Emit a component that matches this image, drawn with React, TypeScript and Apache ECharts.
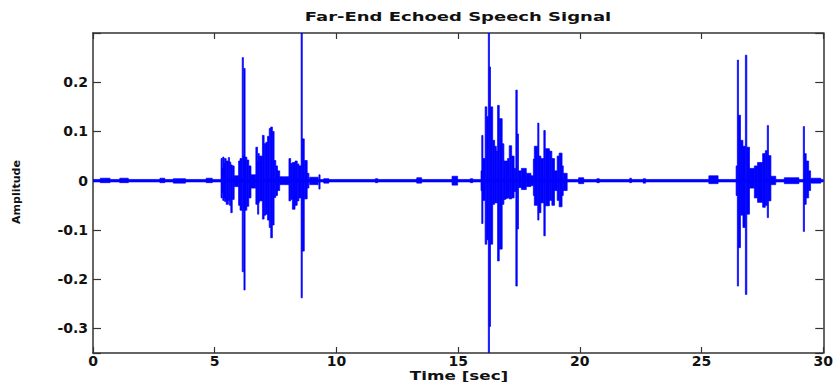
import React, { useEffect, useRef } from "react";
import * as echarts from "echarts";

// Each segment: [tStart (s), tEnd (s), upper amplitude, lower amplitude]
const baselineNoise: number[][] = [
  [0, 30, 0.0025, -0.0025],
  [0.3, 0.7, 0.005, -0.004],
  [1.1, 1.45, 0.005, -0.004],
  [2.75, 2.95, 0.005, -0.004],
  [3.3, 3.8, 0.004, -0.005],
  [4.65, 4.9, 0.005, -0.004],
  [8.9, 9.25, 0.007, -0.008],
  [9.28, 9.32, 0.012, -0.017],
  [9.48, 9.69, 0.004, -0.005],
  [11.6, 11.7, 0.004, -0.004],
  [13.3, 13.5, 0.006, -0.005],
  [14.75, 14.98, 0.009, -0.009],
  [15.5, 15.6, 0.004, -0.004],
  [19.95, 20.16, 0.006, -0.006],
  [20.7, 20.8, 0.004, -0.004],
  [22.05, 22.12, 0.005, -0.004],
  [22.6, 22.7, 0.004, -0.005],
  [25.3, 25.68, 0.01, -0.006],
  [28.4, 29.0, 0.006, -0.006],
  [29.5, 29.9, 0.005, -0.005],
];

const burst1: number[][] = [
  [5.26, 5.29, 0.045, -0.035],
  [5.29, 5.33, 0.025, -0.025],
  [5.33, 5.37, 0.048, -0.04],
  [5.37, 5.4, 0.035, -0.035],
  [5.4, 5.47, 0.045, -0.042],
  [5.47, 5.56, 0.04, -0.048],
  [5.56, 5.6, 0.047, -0.04],
  [5.6, 5.66, 0.038, -0.05],
  [5.66, 5.72, 0.032, -0.065],
  [5.72, 5.8, 0.03, -0.038],
  [5.8, 5.98, 0.01, -0.012],
  [5.98, 6.04, 0.04, -0.05],
  [6.04, 6.12, 0.045, -0.06],
  [6.13, 6.17, 0.25, -0.185],
  [6.17, 6.2, 0.05, -0.06],
  [6.2, 6.24, 0.228, -0.222],
  [6.24, 6.32, 0.048, -0.06],
  [6.32, 6.4, 0.042, -0.052],
  [6.4, 6.49, 0.03, -0.035],
  [6.49, 6.69, 0.012, -0.015],
  [6.69, 6.76, 0.068, -0.048],
  [6.76, 6.78, 0.04, -0.068],
  [6.78, 6.83, 0.055, -0.045],
  [6.83, 6.96, 0.05, -0.041],
  [6.96, 7.03, 0.092, -0.078],
  [7.03, 7.1, 0.075, -0.07],
  [7.1, 7.17, 0.078, -0.068],
  [7.17, 7.24, 0.09, -0.08],
  [7.24, 7.3, 0.106, -0.095],
  [7.3, 7.37, 0.109, -0.116],
  [7.37, 7.44, 0.1, -0.09],
  [7.44, 7.51, 0.041, -0.034],
  [7.51, 7.58, 0.03, -0.03],
  [7.58, 7.67, 0.02, -0.02],
  [7.67, 8.05, 0.008, -0.008],
  [8.05, 8.12, 0.045, -0.041],
  [8.12, 8.19, 0.035, -0.038],
  [8.19, 8.3, 0.037, -0.058],
  [8.3, 8.39, 0.04, -0.05],
  [8.39, 8.46, 0.034, -0.041],
  [8.46, 8.55, 0.03, -0.035],
  [8.55, 8.59, 0.3, -0.238],
  [8.59, 8.68, 0.085, -0.143],
  [8.68, 8.8, 0.041, -0.037],
  [8.8, 8.87, 0.015, -0.015],
];

const burst2: number[][] = [
  [15.94, 15.97, 0.02, -0.02],
  [15.97, 16.02, 0.092, -0.087],
  [16.02, 16.11, 0.045, -0.04],
  [16.11, 16.18, 0.15, -0.129],
  [16.18, 16.24, 0.13, -0.12],
  [16.24, 16.28, 0.3, -0.35],
  [16.28, 16.33, 0.231, -0.296],
  [16.33, 16.42, 0.15, -0.129],
  [16.42, 16.5, 0.082, -0.048],
  [16.5, 16.57, 0.07, -0.045],
  [16.57, 16.62, 0.06, -0.045],
  [16.62, 16.69, 0.153, -0.163],
  [16.69, 16.81, 0.126, -0.139],
  [16.81, 16.88, 0.075, -0.048],
  [16.88, 16.96, 0.04, -0.038],
  [16.96, 17.03, 0.04, -0.036],
  [17.03, 17.1, 0.045, -0.035],
  [17.1, 17.2, 0.071, -0.037],
  [17.2, 17.3, 0.05, -0.035],
  [17.3, 17.37, 0.025, -0.022],
  [17.37, 17.43, 0.184, -0.214],
  [17.43, 17.48, 0.095, -0.098],
  [17.48, 17.6, 0.02, -0.014],
  [17.6, 17.8, 0.025, -0.018],
  [17.8, 17.99, 0.015, -0.012],
  [17.99, 18.09, 0.01, -0.01],
  [18.09, 18.13, 0.044, -0.03],
  [18.13, 18.27, 0.07, -0.05],
  [18.27, 18.32, 0.117, -0.08],
  [18.32, 18.4, 0.05, -0.065],
  [18.4, 18.52, 0.045, -0.045],
  [18.52, 18.58, 0.102, -0.112],
  [18.58, 18.75, 0.065, -0.051],
  [18.75, 18.85, 0.06, -0.04],
  [18.85, 18.96, 0.045, -0.05],
  [18.96, 19.07, 0.02, -0.02],
  [19.07, 19.15, 0.05, -0.04],
  [19.15, 19.27, 0.056, -0.053],
  [19.27, 19.32, 0.03, -0.03],
  [19.32, 19.48, 0.015, -0.02],
];

const burst3: number[][] = [
  [26.42, 26.47, 0.03, -0.03],
  [26.47, 26.51, 0.245, -0.214],
  [26.51, 26.6, 0.133, -0.136],
  [26.6, 26.7, 0.082, -0.07],
  [26.7, 26.8, 0.07, -0.095],
  [26.8, 26.86, 0.255, -0.231],
  [26.86, 26.97, 0.068, -0.068],
  [26.97, 27.17, 0.025, -0.015],
  [27.17, 27.3, 0.03, -0.035],
  [27.3, 27.51, 0.037, -0.044],
  [27.51, 27.62, 0.055, -0.054],
  [27.62, 27.7, 0.061, -0.05],
  [27.7, 27.74, 0.112, -0.075],
  [27.74, 27.85, 0.051, -0.041],
  [27.85, 28.05, 0.009, -0.008],
  [29.18, 29.22, 0.11, -0.103],
  [29.22, 29.3, 0.055, -0.048],
  [29.3, 29.4, 0.04, -0.035],
  [29.4, 29.48, 0.02, -0.02],
];

const xTicks = { min: 0, max: 30, interval: 5 };
const yRange = { min: -0.35, max: 0.3 };

const titleText = "Far-End Echoed Speech Signal";
const xName = "Time [sec]";
const yName = "Amplitude";

const AXIS_COLOR = "#333";
const LINE_COLOR = "#0000ff";

export default function App() {
  const ref = useRef<HTMLDivElement>(null);

  useEffect(() => {
    if (!ref.current) return;
    const chart = echarts.init(ref.current, undefined, { renderer: "svg" });

    const segments = [...baselineNoise, ...burst1, ...burst2, ...burst3];

    const labelStyle = {
      color: "#111",
      fontFamily: "DejaVu Sans",
      fontWeight: "bold" as const,
      fontSize: 14,
    };
    const axisLine = { show: true, onZero: false, lineStyle: { color: AXIS_COLOR, width: 1.5 } };
    const tickStyle = { color: AXIS_COLOR, width: 1.2 };

    const yFormatter = (v: number) => {
      const k = Math.round(v * 10);
      if (Math.abs(v * 10 - k) > 1e-6 || v > 0.25) return "";
      return k === 0 ? "0" : (k / 10).toFixed(1);
    };

    chart.setOption({
      animation: false,
      backgroundColor: "#fff",
      grid: { left: 93, right: 8, top: 33, bottom: 29, containLabel: false },
      xAxis: [
        {
          type: "value",
          position: "bottom",
          ...xTicks,
          axisLine,
          axisTick: { show: true, inside: true, length: 6, lineStyle: tickStyle },
          axisLabel: { ...labelStyle, margin: 1 },
          splitLine: { show: false },
        },
        {
          type: "value",
          position: "top",
          ...xTicks,
          axisLine,
          axisTick: { show: true, inside: true, length: 6, lineStyle: tickStyle },
          axisLabel: { show: false },
          splitLine: { show: false },
        },
      ],
      yAxis: [
        {
          type: "value",
          position: "left",
          ...yRange,
          axisLine,
          axisTick: { show: true, inside: true, length: 8, lineStyle: tickStyle },
          axisLabel: { ...labelStyle, margin: 5, formatter: yFormatter },
          splitLine: { show: false },
        },
        {
          type: "value",
          position: "right",
          ...yRange,
          axisLine,
          axisTick: { show: true, inside: true, length: 8, lineStyle: tickStyle },
          axisLabel: { show: false },
          splitLine: { show: false },
        },
      ],
      graphic: [
        {
          type: "text",
          x: 458,
          y: 17.5,
          scaleX: 1.5,
          style: {
            text: titleText,
            font: 'bold 12px "DejaVu Sans"',
            fill: "#111",
            align: "center",
            verticalAlign: "middle",
          },
        },
        {
          type: "text",
          x: 459,
          y: 375.5,
          scaleX: 1.4,
          style: {
            text: xName,
            font: 'bold 12px "DejaVu Sans"',
            fill: "#111",
            align: "center",
            verticalAlign: "middle",
          },
        },
        {
          type: "text",
          x: 16.5,
          y: 192,
          rotation: Math.PI / 2,
          style: {
            text: yName,
            font: 'bold 11px "DejaVu Sans"',
            fill: "#111",
            align: "center",
            verticalAlign: "middle",
          },
        },
      ],
      series: [
        {
          type: "custom",
          xAxisIndex: 0,
          yAxisIndex: 0,
          clip: true,
          encode: { x: [0, 1], y: [2, 3] },
          data: segments,
          renderItem: (_params: any, api: any) => {
            const p0 = api.coord([api.value(0), api.value(2)]);
            const p1 = api.coord([api.value(1), api.value(3)]);
            const w = Math.max(p1[0] - p0[0], 1.2);
            const h = Math.max(p1[1] - p0[1], 1);
            return {
              type: "rect",
              shape: { x: p0[0], y: p0[1], width: w, height: h },
              style: { fill: LINE_COLOR, stroke: LINE_COLOR, lineWidth: 0.7 },
            };
          },
        },
      ],
    });

    return () => chart.dispose();
  }, []);

  return (
    <div
      ref={ref}
      style={{ position: "fixed", left: 0, top: 0, width: 836, height: 382, background: "#fff" }}
    />
  );
}
